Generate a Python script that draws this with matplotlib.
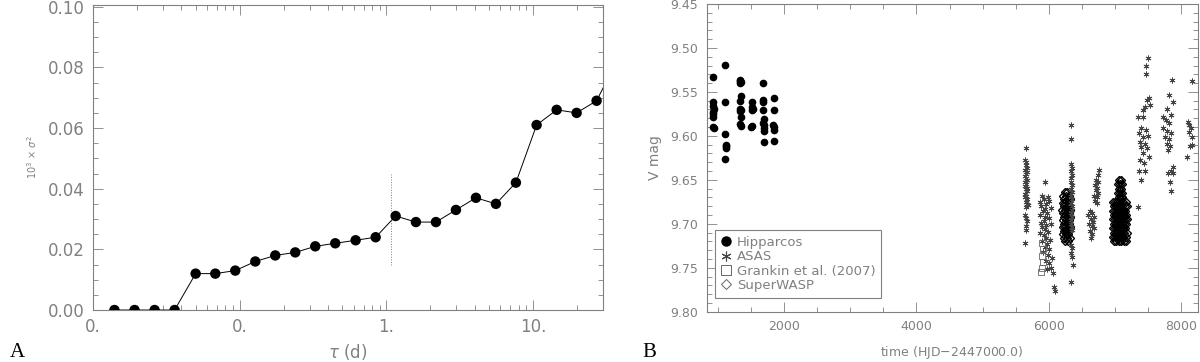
import numpy as np
import matplotlib
matplotlib.use("Agg")
import matplotlib.pyplot as plt
from matplotlib.ticker import FixedLocator, FixedFormatter, MultipleLocator, LogLocator, NullFormatter
from matplotlib.lines import Line2D

grey = "#808080"

# panel A : structure function
tau = [0.0140, 0.0192, 0.0263, 0.0360, 0.0501, 0.0682, 0.0933, 0.1278, 0.1748,
       0.2393, 0.3276, 0.4483, 0.6174, 0.8455, 1.157, 1.591, 2.178, 2.981,
       4.082, 5.586, 7.644, 10.58, 14.49, 19.83, 27.13, 37.15]
sig2 = [0.000, 0.000, 0.000, 0.000, 0.012, 0.012, 0.013, 0.016, 0.018,
        0.019, 0.021, 0.022, 0.023, 0.024, 0.031, 0.029, 0.029, 0.033,
        0.037, 0.035, 0.042, 0.061, 0.066, 0.065, 0.069, 0.082]
a_xticks = [0.01, 0.1, 1.0, 10.0]
a_xlabels = ["0.", "0.", "1.", "10."]
a_yticks = [0.00, 0.02, 0.04, 0.06, 0.08, 0.10]
tau_mark = 1.07

# panel B : light curve
hip_t = [925, 930, 928, 932, 927, 931, 926, 929, 933,
         1110, 1108, 1112, 1115, 1125, 1120, 1112,
         1336, 1330, 1340, 1338, 1342, 1335, 1333, 1345, 1338, 1340, 1334, 1341,
         1517, 1510, 1522, 1515, 1505, 1520,
         1683, 1680, 1686, 1678, 1690, 1684, 1688, 1692, 1700, 1690,
         1839, 1840, 1838, 1842, 1839, 1840]
hip_v = [9.533, 9.561, 9.566, 9.569, 9.573, 9.575, 9.578, 9.590, 9.591,
         9.519, 9.562, 9.598, 9.610, 9.612, 9.614, 9.626,
         9.536, 9.538, 9.539, 9.540, 9.555, 9.560, 9.570, 9.571, 9.572, 9.579, 9.586, 9.589,
         9.561, 9.567, 9.569, 9.571, 9.590, 9.589,
         9.540, 9.559, 9.562, 9.571, 9.581, 9.585, 9.588, 9.591, 9.594, 9.607,
         9.557, 9.571, 9.588, 9.590, 9.593, 9.606]

asas_t = [5655, 5640, 5660, 5650, 5668, 5645, 5672, 5655, 5638, 5662, 5670, 5648, 5658,
          5642, 5666, 5652, 5674, 5646, 5660, 5640, 5668, 5655, 5676, 5685, 5690, 5650,
          5645, 5660, 5665, 5650, 5655, 5640,
          5950, 5900, 5990, 5930, 5870, 6010, 5960, 5890, 5940, 6030, 5915, 5975, 5860,
          5950, 6005, 5925, 5885, 5965, 6040, 5905, 5945, 5990, 5870, 5930, 5960, 6020,
          5900, 5975, 5940, 6000, 5920, 5985, 6045, 5955, 6010, 6030, 5970, 6060, 6085, 6095,
          6340, 6335, 6330, 6345, 6338, 6350, 6332, 6342, 6355, 6336, 6348, 6340, 6352,
          6334, 6346, 6358, 6338, 6350, 6342, 6336, 6354, 6344, 6340, 6348, 6338, 6345,
          6360, 6342,
          6760, 6745, 6720, 6750, 6700, 6730, 6715, 6740, 6690, 6725, 6705, 6735, 6620,
          6650, 6600, 6680, 6640, 6670, 6615, 6655, 6690, 6630, 6660, 6645,
          7500, 7473, 7473, 7513, 7480, 7523, 7453, 7422, 7347, 7422, 7397, 7473, 7360,
          7500, 7422, 7372, 7460, 7397, 7485, 7422, 7510, 7385, 7447, 7360, 7460, 7397, 7348,
          7865, 7815, 7875, 7724, 7790, 7850, 7765, 7815, 7724, 7790, 7850, 7750, 7815,
          7780, 7840, 7800, 7875, 7850, 7800, 7885, 7840, 7852,
          8167, 8100, 8125, 8150, 8125, 8167, 8135, 8167, 8089]
asas_v = [9.614, 9.627, 9.630, 9.633, 9.636, 9.639, 9.641, 9.643, 9.646, 9.648, 9.650, 9.652, 9.655,
          9.657, 9.659, 9.661, 9.663, 9.666, 9.668, 9.670, 9.672, 9.675, 9.677, 9.679, 9.679, 9.681,
          9.690, 9.694, 9.697, 9.702, 9.707, 9.722,
          9.653, 9.668, 9.670, 9.672, 9.675, 9.674, 9.678, 9.680, 9.683, 9.682, 9.686, 9.688, 9.690,
          9.692, 9.694, 9.697, 9.699, 9.701, 9.700, 9.704, 9.706, 9.709, 9.711, 9.713, 9.716, 9.718,
          9.720, 9.723, 9.726, 9.729, 9.732, 9.736, 9.739, 9.742, 9.745, 9.750, 9.752, 9.756, 9.772, 9.776,
          9.588, 9.604, 9.632, 9.636, 9.640, 9.644, 9.648, 9.652, 9.656, 9.660, 9.664, 9.668, 9.672,
          9.676, 9.680, 9.684, 9.688, 9.692, 9.696, 9.700, 9.704, 9.707, 9.724, 9.728, 9.733, 9.738,
          9.747, 9.766,
          9.639, 9.645, 9.650, 9.652, 9.656, 9.659, 9.662, 9.665, 9.668, 9.670, 9.674, 9.676, 9.686,
          9.688, 9.690, 9.692, 9.695, 9.698, 9.700, 9.703, 9.705, 9.708, 9.712, 9.716,
          9.512, 9.521, 9.530, 9.557, 9.559, 9.565, 9.567, 9.571, 9.578, 9.578, 9.591, 9.593, 9.597,
          9.600, 9.601, 9.607, 9.609, 9.613, 9.614, 9.620, 9.624, 9.627, 9.631, 9.640, 9.640, 9.650, 9.681,
          9.537, 9.553, 9.561, 9.578, 9.569, 9.576, 9.582, 9.585, 9.591, 9.594, 9.597, 9.601, 9.604,
          9.609, 9.612, 9.616, 9.635, 9.640, 9.642, 9.642, 9.653, 9.663,
          9.538, 9.584, 9.588, 9.591, 9.596, 9.601, 9.612, 9.610, 9.624]

gran_t = [5900, 5912, 5895, 5920, 5905, 5890]
gran_v = [9.722, 9.729, 9.737, 9.744, 9.750, 9.755]

swasp_t = [6240, 6275, 6215, 6260, 6300, 6230, 6285, 6320, 6210, 6250, 6295,
           6225, 6270, 6310, 6205, 6245, 6290, 6325, 6220, 6265, 6305, 6235, 6280, 6318,
           6210, 6255, 6300, 6228, 6272, 6312, 6215, 6248, 6290, 6328, 6232, 6268, 6305,
           6210, 6255, 6295, 6225, 6275, 6315, 6240, 6290,
           7060, 7090, 7050, 7080, 7105, 7065, 7095, 7045, 7075, 7110, 7055, 7085, 7100,
           6975, 7005, 7035, 7065, 7095, 7125, 7160,
           6990, 7020, 7050, 7080, 7110, 7145, 7180,
           6970, 7000, 7030, 7060, 7090, 7120, 7155,
           6985, 7015, 7045, 7075, 7105, 7140, 7175,
           6968, 6998, 7028, 7058, 7088, 7118, 7150, 7185,
           6980, 7010, 7040, 7070, 7100, 7135, 7170,
           6972, 7002, 7032, 7062, 7092, 7122, 7158,
           6988, 7018, 7048, 7078, 7108, 7142, 7178,
           6975, 7005, 7035, 7065, 7095, 7128, 7165,
           6985, 7020, 7055, 7090, 7130, 7170]
swasp_v = [9.664, 9.664, 9.668, 9.668, 9.668, 9.672, 9.672, 9.672, 9.676, 9.676, 9.676,
           9.680, 9.680, 9.680, 9.684, 9.684, 9.684, 9.684, 9.688, 9.688, 9.688, 9.692, 9.692, 9.692,
           9.696, 9.696, 9.696, 9.700, 9.700, 9.700, 9.704, 9.704, 9.704, 9.704, 9.708, 9.708, 9.708,
           9.712, 9.712, 9.712, 9.716, 9.716, 9.716, 9.720, 9.720,
           9.650, 9.650, 9.655, 9.655, 9.655, 9.660, 9.660, 9.665, 9.665, 9.665, 9.670, 9.670, 9.670,
           9.675, 9.675, 9.675, 9.675, 9.675, 9.675, 9.675,
           9.680, 9.680, 9.680, 9.680, 9.680, 9.680, 9.680,
           9.685, 9.685, 9.685, 9.685, 9.685, 9.685, 9.685,
           9.690, 9.690, 9.690, 9.690, 9.690, 9.690, 9.690,
           9.695, 9.695, 9.695, 9.695, 9.695, 9.695, 9.695, 9.695,
           9.700, 9.700, 9.700, 9.700, 9.700, 9.700, 9.700,
           9.705, 9.705, 9.705, 9.705, 9.705, 9.705, 9.705,
           9.710, 9.710, 9.710, 9.710, 9.710, 9.710, 9.710,
           9.715, 9.715, 9.715, 9.715, 9.715, 9.715, 9.715,
           9.720, 9.720, 9.720, 9.720, 9.720, 9.720]

b_xticks = [2000, 4000, 6000, 8000]
b_yticks = [9.45, 9.50, 9.55, 9.60, 9.65, 9.70, 9.75, 9.80]

asterisk = (6, 2, 0)


def style_axes(ax, size):
    for s in ax.spines.values():
        s.set_color(grey)
        s.set_linewidth(0.8)
    ax.tick_params(which="both", direction="in", top=True, right=True,
                   colors=grey, labelcolor=grey, labelsize=size, width=0.6, pad=6)
    ax.tick_params(which="major", length=7)
    ax.tick_params(which="minor", length=3.5)


fig = plt.figure(figsize=(12, 3.62), dpi=100)

# ----- A -----
axa = fig.add_axes([0.0775, 0.1436, 0.425, 0.842])
axa.plot(tau, sig2, color="black", lw=0.7)
axa.scatter(tau, sig2, s=7.5 ** 2, c="black", edgecolors="none", zorder=3, clip_on=True)
axa.plot([tau_mark, tau_mark], [0.015, 0.045], color=grey, lw=0.7, ls=":")
axa.set_xscale("log")
axa.set_xlim(0.01, 30)
axa.set_ylim(0, 0.1005)
axa.xaxis.set_major_locator(FixedLocator(a_xticks))
axa.xaxis.set_major_formatter(FixedFormatter(a_xlabels))
axa.xaxis.set_minor_locator(LogLocator(base=10, subs=np.arange(2, 10)))
axa.xaxis.set_minor_formatter(NullFormatter())
axa.set_yticks(a_yticks)
axa.set_yticklabels(["%.2f" % v for v in a_yticks])
axa.yaxis.set_minor_locator(MultipleLocator(0.005))
style_axes(axa, 12)
axa.set_xlabel(r"$\tau$ (d)", color=grey, fontsize=12, labelpad=4)
axa.set_ylabel(r"10$^3$ $\times$ $\sigma^2$", color=grey, fontsize=7, labelpad=6)

# ----- B -----
axb = fig.add_axes([0.589, 0.139, 0.409, 0.850])
axb.plot(swasp_t, swasp_v, ls="none", marker="D", ms=4.5, mfc="none", mec="black", mew=1.0)
axb.plot(asas_t, asas_v, ls="none", marker=asterisk, ms=4.2, color="#444444", mew=0.6)
axb.plot(gran_t, gran_v, ls="none", marker="s", ms=4.5, mfc="none", mec="#666666", mew=0.6)
axb.plot(hip_t, hip_v, ls="none", marker="o", ms=4.5, mfc="black", mec="black")
axb.set_xlim(830, 8250)
axb.set_ylim(9.80, 9.45)
axb.set_xticks(b_xticks)
axb.set_yticks(b_yticks)
axb.set_yticklabels(["%.2f" % v for v in b_yticks])
axb.xaxis.set_minor_locator(MultipleLocator(500))
axb.yaxis.set_minor_locator(MultipleLocator(0.01))
style_axes(axb, 9)
axb.set_xlabel("time (HJD$-$2447000.0)", color=grey, fontsize=9, labelpad=8)
axb.set_ylabel("V mag", color=grey, fontsize=10, labelpad=6)

handles = [
    Line2D([], [], ls="none", marker="o", ms=6.5, color="black"),
    Line2D([], [], ls="none", marker=asterisk, ms=7, color="#444444", mew=0.8),
    Line2D([], [], ls="none", marker="s", ms=6.5, mfc="none", mec="#666666", mew=0.7),
    Line2D([], [], ls="none", marker="D", ms=5, mfc="none", mec="#666666", mew=0.7),
]
labels = ["Hipparcos", "ASAS", "Grankin et al. (2007)", "SuperWASP"]
leg = axb.legend(handles, labels, loc="lower left", bbox_to_anchor=(0.017, 0.045),
                 borderaxespad=0, fontsize=9.5, handlelength=0.8, handletextpad=0.4,
                 labelspacing=0.1, borderpad=0.45, fancybox=False, framealpha=1)
leg.get_frame().set_edgecolor(grey)
leg.get_frame().set_linewidth(0.8)
for t in leg.get_texts():
    t.set_color(grey)

fig.text(0.008, 0.015, "A", fontsize=15, family="Liberation Serif", color="black")
fig.text(0.535, 0.015, "B", fontsize=15, family="Liberation Serif", color="black")

fig.savefig("out.png", dpi=100)
